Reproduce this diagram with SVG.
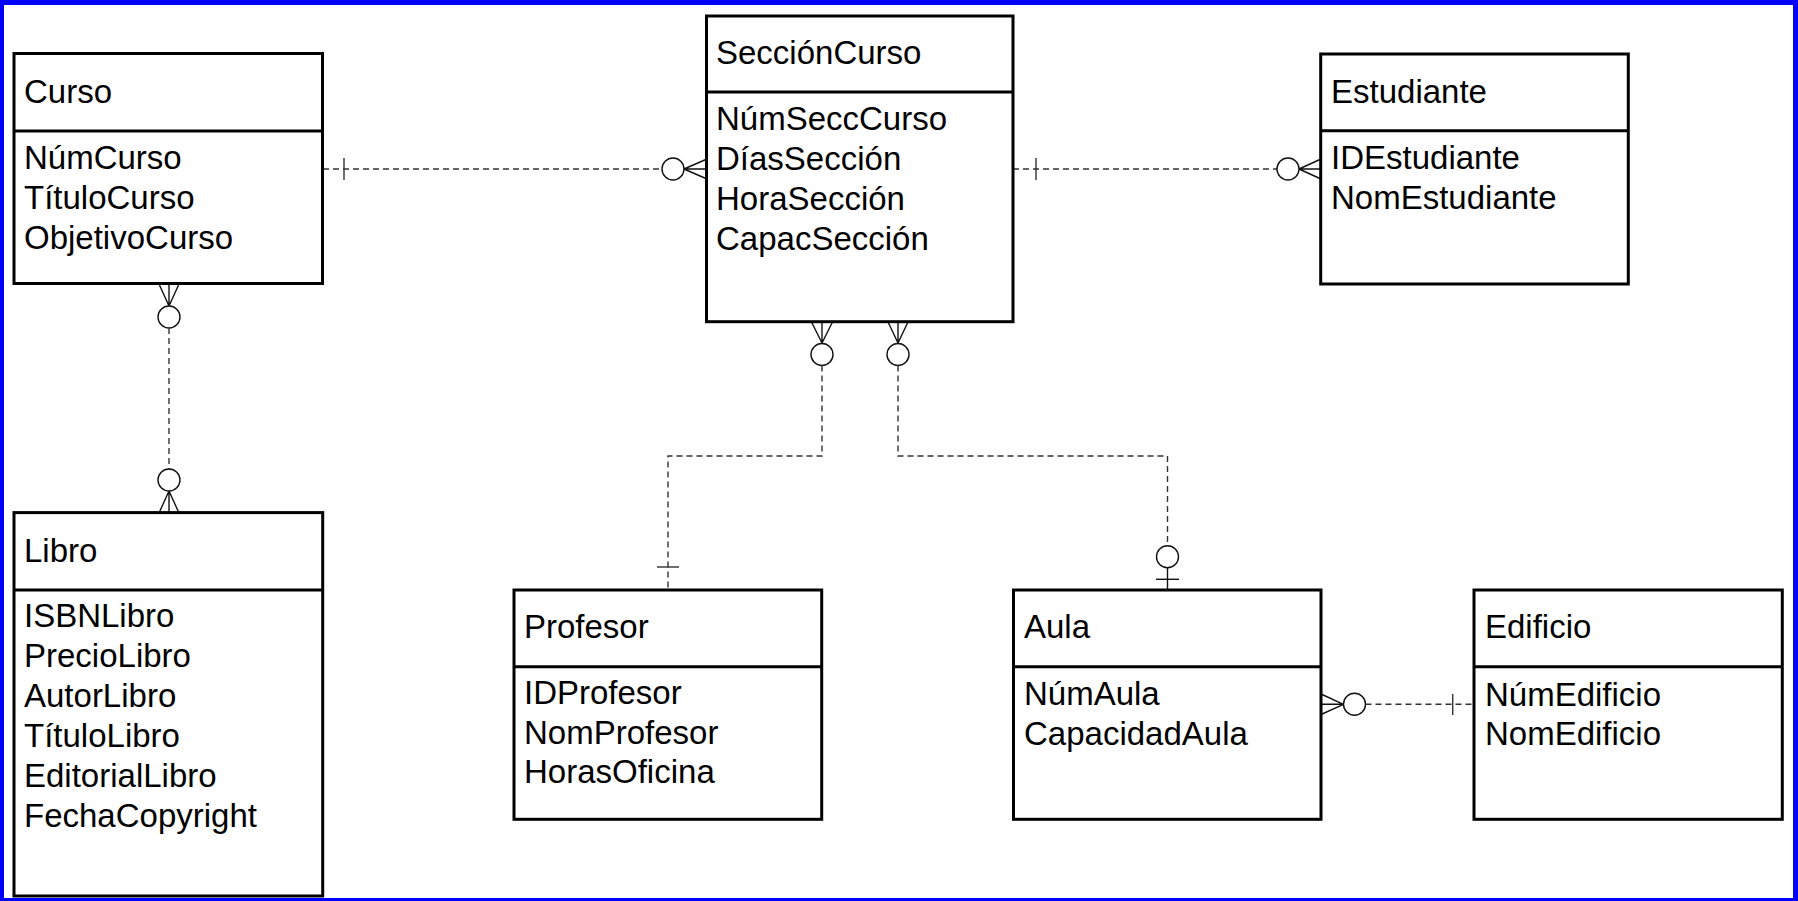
<svg xmlns="http://www.w3.org/2000/svg" width="1798" height="901" viewBox="0 0 1798 901">
<style>
.box{fill:#fff;stroke:#000;stroke-width:3}
.dv{stroke:#000;stroke-width:3}
.t{font-family:"Liberation Sans",Arial,sans-serif;font-size:33px;fill:#000}
.dash{fill:none;stroke:#333;stroke-width:1.4;stroke-dasharray:6 4}
.sym{fill:none;stroke:#111;stroke-width:1.4}
.ring{fill:#fff;stroke:#111;stroke-width:1.4}
.tick{fill:none;stroke:#333;stroke-width:1.4}
</style>
<rect x="0" y="0" width="1798" height="901" fill="#0000ff"/>
<rect x="4" y="5" width="1789" height="893" fill="#fff"/>

<g id="connectors">
  <g id="c-curso-seccion">
    <path class="dash" d="M323,169 H662"/>
    <path class="tick" d="M344,158 V180"/>
    <circle class="ring" cx="673" cy="169" r="11"/>
    <path class="sym" d="M684,169 L707,159 M684,169 H707 M684,169 L707,179"/>
  </g>
  <g id="c-seccion-estudiante">
    <path class="dash" d="M1013,169 H1277"/>
    <path class="tick" d="M1036,158 V180"/>
    <circle class="ring" cx="1288" cy="169" r="11"/>
    <path class="sym" d="M1299,169 L1321,159 M1299,169 H1321 M1299,169 L1321,179"/>
  </g>
  <g id="c-curso-libro">
    <path class="sym" d="M159,284 L169,306 M169,284 V306 M179,284 L169,306"/>
    <circle class="ring" cx="169" cy="317" r="11"/>
    <path class="dash" d="M169,328 V469"/>
    <circle class="ring" cx="169" cy="480" r="11"/>
    <path class="sym" d="M169,491 L159,513 M169,491 V513 M169,491 L179,513"/>
  </g>
  <g id="c-seccion-profesor">
    <path class="sym" d="M811.5,322 L822,343 M822,322 V343 M832.5,322 L822,343"/>
    <circle class="ring" cx="822" cy="354.5" r="11"/>
    <path class="dash" d="M822,365.5 V456 H668 V590"/>
    <path class="tick" d="M657,567 H679"/>
  </g>
  <g id="c-seccion-aula">
    <path class="sym" d="M888,322 L898,343 M898,322 V343 M908,322 L898,343"/>
    <circle class="ring" cx="898" cy="354.5" r="11"/>
    <path class="dash" d="M898,365.5 V456 H1167.5 V545.5"/>
    <circle class="ring" cx="1167.5" cy="556.7" r="11"/>
    <path class="sym" d="M1167.5,567.7 V590"/>
    <path class="sym" d="M1156,579.3 H1179"/>
  </g>
  <g id="c-aula-edificio">
    <path class="sym" d="M1321,694 L1343.5,704.3 M1321,704.3 H1343.5 M1321,714.5 L1343.5,704.3"/>
    <circle class="ring" cx="1354.5" cy="704.3" r="11"/>
    <path class="dash" d="M1365.5,704.3 H1474"/>
    <path class="tick" d="M1452.7,694 V715"/>
  </g>
</g>

<g id="curso">
  <rect class="box" x="14" y="53.5" width="308.5" height="230"/>
  <line class="dv" x1="14" y1="131" x2="322.5" y2="131"/>
  <text class="t" x="24" y="103">Curso</text>
  <text class="t" x="24" y="168.5">NúmCurso</text>
  <text class="t" x="24" y="208.5">TítuloCurso</text>
  <text class="t" x="24" y="248.5">ObjetivoCurso</text>
</g>

<g id="seccioncurso">
  <rect class="box" x="706.5" y="16" width="306.5" height="305.7"/>
  <line class="dv" x1="706.5" y1="92" x2="1013" y2="92"/>
  <text class="t" x="716" y="64">SecciónCurso</text>
  <text class="t" x="716" y="129.5">NúmSeccCurso</text>
  <text class="t" x="716" y="169.8">DíasSección</text>
  <text class="t" x="716" y="210">HoraSección</text>
  <text class="t" x="716" y="250">CapacSección</text>
</g>

<g id="estudiante">
  <rect class="box" x="1320.7" y="54" width="307.6" height="230"/>
  <line class="dv" x1="1320.7" y1="130.7" x2="1628.3" y2="130.7"/>
  <text class="t" x="1331" y="103">Estudiante</text>
  <text class="t" x="1331" y="169">IDEstudiante</text>
  <text class="t" x="1331" y="208.5">NomEstudiante</text>
</g>

<g id="libro">
  <rect class="box" x="14" y="512.6" width="308.7" height="383.4"/>
  <line class="dv" x1="14" y1="590" x2="322.7" y2="590"/>
  <text class="t" x="24" y="562">Libro</text>
  <text class="t" x="24" y="627">ISBNLibro</text>
  <text class="t" x="24" y="667">PrecioLibro</text>
  <text class="t" x="24" y="706.5">AutorLibro</text>
  <text class="t" x="24" y="746.5">TítuloLibro</text>
  <text class="t" x="24" y="786.5">EditorialLibro</text>
  <text class="t" x="24" y="826.5">FechaCopyright</text>
</g>

<g id="profesor">
  <rect class="box" x="514" y="590" width="307.7" height="229.3"/>
  <line class="dv" x1="514" y1="666.7" x2="821.7" y2="666.7"/>
  <text class="t" x="524" y="638.3">Profesor</text>
  <text class="t" x="524" y="704">IDProfesor</text>
  <text class="t" x="524" y="743.5">NomProfesor</text>
  <text class="t" x="524" y="783.3">HorasOficina</text>
</g>

<g id="aula">
  <rect class="box" x="1013.5" y="590" width="307.5" height="229.3"/>
  <line class="dv" x1="1013.5" y1="666.7" x2="1321" y2="666.7"/>
  <text class="t" x="1024" y="638.3">Aula</text>
  <text class="t" x="1024" y="704.5">NúmAula</text>
  <text class="t" x="1024" y="744.5">CapacidadAula</text>
</g>

<g id="edificio">
  <rect class="box" x="1474" y="590" width="308.3" height="229.3"/>
  <line class="dv" x1="1474" y1="666.7" x2="1782.3" y2="666.7"/>
  <text class="t" x="1485" y="638">Edificio</text>
  <text class="t" x="1485" y="705.5">NúmEdificio</text>
  <text class="t" x="1485" y="744.5">NomEdificio</text>
</g>
</svg>
